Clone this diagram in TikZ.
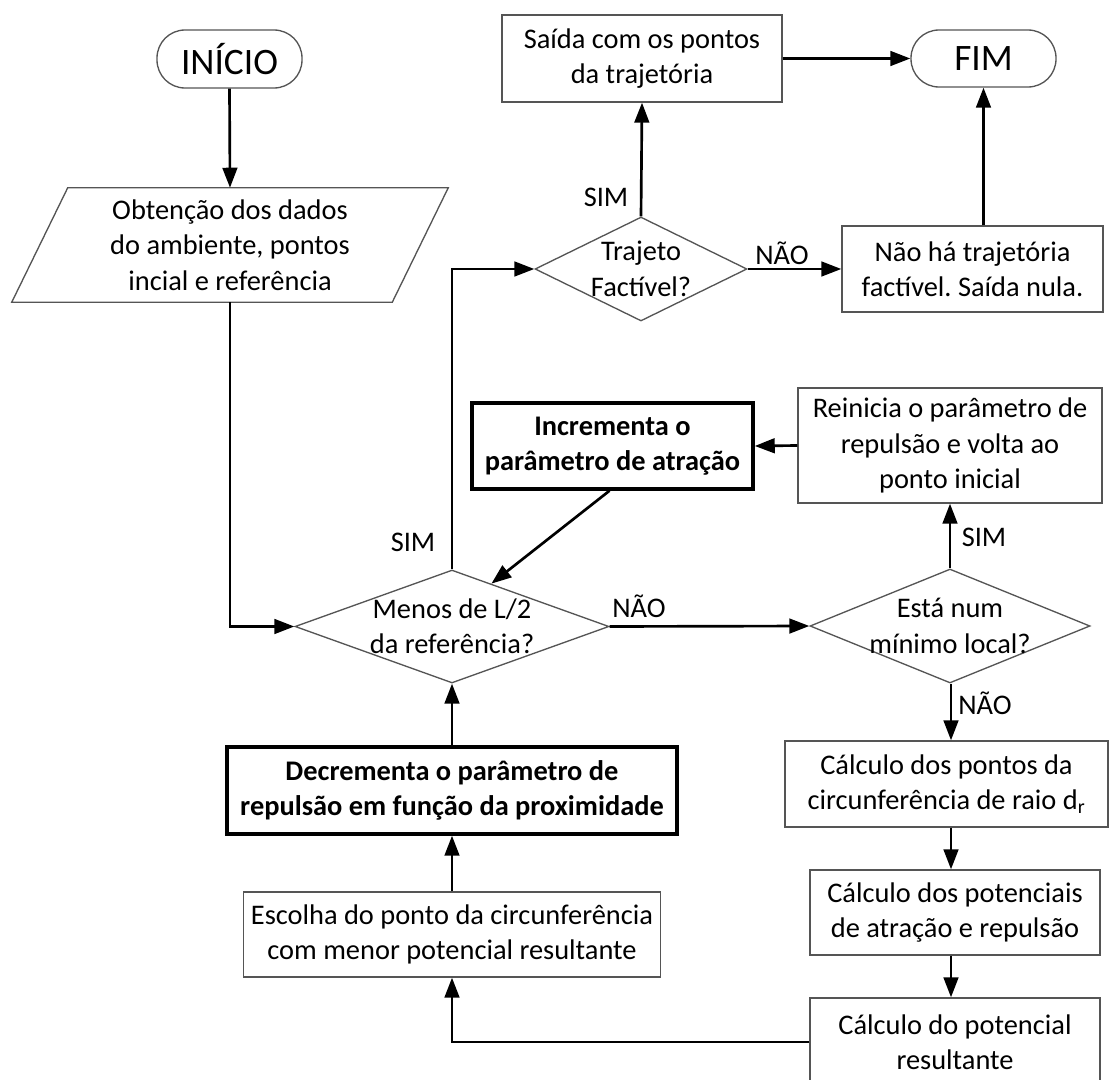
\documentclass[tikz,border=0pt]{standalone}
\usepackage{fontspec}
\setmainfont{Carlito}
\frenchspacing
\usetikzlibrary{shapes.geometric,arrows.meta,calc}
\newcommand\dtext[1]{\makebox[0pt]{\smash{\raisebox{-7pt}{\begin{tabular}{@{}c@{}}#1\end{tabular}}}}}
\definecolor{bordergray}{HTML}{555555}
\tikzset{
  every node/.style={font=\fontsize{21.3}{26.5}\selectfont, text=black},
  box/.style={draw=bordergray, line width=1pt, fill=white, rectangle, align=center, inner sep=2pt},
  boldbox/.style={draw=black, line width=2.6pt, fill=white, rectangle, align=center, inner sep=2pt, font=\fontsize{21.3}{26.5}\selectfont\bfseries},
  term/.style={draw=bordergray, line width=1pt, rectangle, rounded corners=21pt, font=\fontsize{28}{30}\selectfont},
  dia/.style={draw=bordergray, line width=1pt, diamond, inner sep=0pt},
  lbl/.style={inner sep=0pt},
  arr/.style={line width=2pt, -{Triangle[length=15pt,width=11pt]}},
  ln/.style={line width=2pt}
}
\begin{document}
\begin{tikzpicture}[x=0.75pt, y=-0.75pt]
\useasboundingbox (0,0) rectangle (1110,1080);

% nodes
\node[term, minimum width=108.75pt, minimum height=43.5pt] (ini) at (229.5,59) {INÍCIO};
\node[align=center, minimum width=327pt, minimum height=85.5pt, inner sep=0pt] (par) at (230,245)
  {Obtenção dos dados\\do ambiente, pontos\\incial e referência};
\draw[draw=bordergray, line width=1pt] (par.south west) -- ($(par.south east)+(-56,0)$) -- (par.north east) -- ($(par.north west)+(56,0)$) -- cycle;

\node[box, minimum width=210pt, minimum height=65.25pt] (out) at (642,58.5) {Saída com os pontos\\da trajetória};
\node[term, minimum width=108.75pt, minimum height=42.75pt] (fim) at (983.5,58.5) {FIM};
\node[dia, minimum width=159pt, minimum height=78pt] (d2) at (641,269) {\dtext{Trajeto\\Factível?}};
\node[box, minimum width=195.75pt, minimum height=64.5pt] (nao) at (972.5,269) {Não há trajetória\\factível. Saída nula.};

\node[boldbox, minimum width=210.75pt, minimum height=64.5pt] (inc) at (612.5,446) {Incrementa o\\parâmetro de atração};
\node[box, minimum width=228pt, minimum height=86.25pt] (rei) at (950,445.5) {Reinicia o parâmetro de\\repulsão e volta ao\\ponto inicial};

\node[dia, minimum width=235.5pt, minimum height=84.75pt] (d1) at (452,626.5) {\dtext{Menos de L/2\\da referência?}};
\node[dia, minimum width=210pt, minimum height=85.5pt] (d3) at (950,626) {\dtext{Está num\\mínimo local?}};

\node[boldbox, minimum width=337.5pt, minimum height=65.25pt] (dec) at (452,790.5) {Decrementa o parâmetro de\\repulsão em função da proximidade};
\node[box, minimum width=312.75pt, minimum height=63.75pt] (esc) at (452,934.5) {Escolha do ponto da circunferência\\com menor potencial resultante};

\node[box, minimum width=242.25pt, minimum height=64.5pt] (cp) at (946.5,784) {Cálculo dos pontos da\\circunferência de raio d\textsubscript{r}};
\node[box, minimum width=217.5pt, minimum height=63.75pt] (pot) at (955,912.5) {Cálculo dos potenciais\\de atração e repulsão};
\node[box, minimum width=217.5pt, minimum height=66pt] (res) at (955,1042) {Cálculo do potencial\\resultante};

\coordinate (col) at (951,0);

% labels
\node[lbl] (l1) at (606,197) {SIM};
\node[lbl] (l2) at (782,253) {NÃO};
\node[lbl] (l3) at (413,542) {SIM};
\node[lbl] (l4) at (639,606) {NÃO};
\node[lbl] (l5) at (984,537) {SIM};
\node[lbl] (l6) at (985,703) {NÃO};

% connectors
\draw[arr] (ini.south) -- (par.north);
\draw[arr] (par.south) |- (d1.west);
\draw[arr] (d1.north) |- (d2.west);
\draw[arr] (d2.north) -- (out.south);
\draw[arr] (out.east) -- (fim.west);
\draw[arr] (d2.east) -- (nao.west);
\draw[arr] (fim.south |- nao.north) -- (fim.south);
\draw[arr] (d1.east) -- (d3.west);
\draw[arr] (d3.north) -- (rei.south);
\draw[arr] (rei.west) -- (inc.east);
\draw[arr] ($(inc.south)+(-3,0)$) -- ($(d1.north)!0.25!(d1.east)$);
\draw[arr] (d3.south -| col) -- (cp.north -| col);
\draw[arr] (cp.south -| col) -- (pot.north -| col);
\draw[arr] (pot.south -| col) -- (res.north -| col);
\draw[arr] (res.west) -| (esc.south);
\draw[arr] (esc.north) -- (dec.south);
\draw[arr] (dec.north) -- (d1.south);
\end{tikzpicture}
\end{document}
